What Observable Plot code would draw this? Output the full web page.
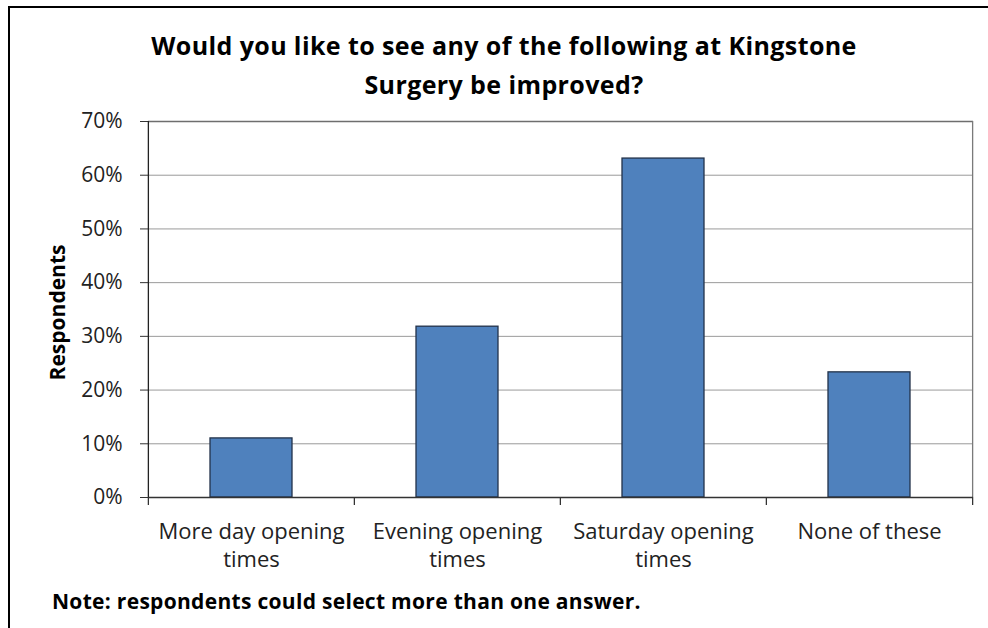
<!DOCTYPE html>
<html>
<head>
<meta charset="utf-8">
<script src="https://cdn.jsdelivr.net/npm/d3@7"></script>
<script src="https://cdn.jsdelivr.net/npm/@observablehq/plot@0.6"></script>
<style>
  html, body { margin: 0; padding: 0; background: #fff; }
  #wrap { position: relative; width: 988px; height: 628px; overflow: hidden; background: #fff; font-family: "Open Sans", sans-serif; }
  #frame { position: absolute; z-index: 5; left: 8px; top: 6px; width: 1000px; height: 700px; border-left: 2px solid #000; border-top: 2px solid #000; pointer-events: none; }
  #title { position: absolute; left: 0; top: 26px; width: 1008px; text-align: center; font-weight: bold; font-size: 25px; letter-spacing: 0.4px; line-height: 39px; color: #000; }
  #chart { position: absolute; left: 0; top: 100px; }
  #note { position: absolute; left: 52px; top: 587px; font-weight: bold; font-size: 21px; letter-spacing: 0.3px; line-height: 28px; color: #000; }
</style>
</head>
<body>
<div id="wrap">
  <div id="frame"></div>
  <div id="title">Would you like to see any of the following at Kingstone<br>Surgery be improved?</div>
  <div id="chart"></div>
  <div id="note">Note: respondents could select more than one answer.</div>
</div>
<script>
const categories = ["More day opening times", "Evening opening times", "Saturday opening times", "None of these"];
const tickLabels = ["More day opening\ntimes", "Evening opening\ntimes", "Saturday opening\ntimes", "None of these"];
const values = [0.11, 0.318, 0.631, 0.233];
const yTicks = [0, 0.1, 0.2, 0.3, 0.4, 0.5, 0.6, 0.7];

const data = categories.map((c, i) => ({category: c, value: values[i]}));

const W = 988, H = 480, ML = 148, MR = 15, MT = 21, MB = 83;
const pIn = 0.6, pOut = 0.3;
const step = (W - ML - MR) / (categories.length - pIn + 2 * pOut);
const plotH = H - MT - MB;
const tickLen = 8 / plotH * 0.7;

const chart = Plot.plot({
  width: W,
  height: H,
  marginLeft: ML,
  marginRight: MR,
  marginTop: MT,
  marginBottom: MB,
  style: {fontFamily: "'Open Sans', sans-serif", fontSize: "21px", color: "#222", background: "transparent", overflow: "visible"},
  x: {domain: categories, paddingInner: pIn, paddingOuter: pOut, label: null},
  y: {domain: [0, 0.7], label: null},
  marks: [
    Plot.ruleY(yTicks.filter(d => d > 0 && d < 0.7), {stroke: "#9a9a9a", strokeWidth: 1}),
    Plot.ruleY([0.7], {stroke: "#6e6e6e", strokeWidth: 1.3}),
    Plot.ruleX([0], {x: () => categories[categories.length - 1], dx: step / 2, y1: 0, y2: 0.7, stroke: "#7a7a7a", strokeWidth: 1.3}),
    Plot.barY(data, {x: "category", y: "value", fill: "#4F81BD", stroke: "#22324a", strokeWidth: 1.3}),
    Plot.ruleY([0], {stroke: "#333", strokeWidth: 1.3}),
    Plot.ruleX(categories, {x: d => d, dx: -step / 2, y1: 0, y2: -tickLen, stroke: "#333", strokeWidth: 1.3}),
    Plot.ruleX([categories[categories.length - 1]], {x: d => d, dx: step / 2, y1: 0, y2: -tickLen, stroke: "#333", strokeWidth: 1.3}),
    Plot.axisY({ticks: yTicks, tickFormat: d => Math.round(d * 100) + "%", tickSize: 8, tickPadding: 18, stroke: "#333", fontSize: 21, fill: "#222", label: null}),
    Plot.ruleX([0], {x: () => categories[0], dx: -step / 2, y1: 0, y2: 0.7, stroke: "#222", strokeWidth: 1.3}),
    Plot.axisX({tickSize: 0, tickPadding: 22, tickFormat: (d) => tickLabels[categories.indexOf(d)], lineHeight: 1.25, fontSize: 22, fill: "#222", label: null}),
    Plot.text(["Respondents"], {frameAnchor: "left", textAnchor: "middle", dx: -90, dy: 3, rotate: -90, fontWeight: "bold", fontSize: 21, fill: "#000", text: d => d})
  ]
});
document.getElementById("chart").appendChild(chart);
</script>
</body>
</html>
